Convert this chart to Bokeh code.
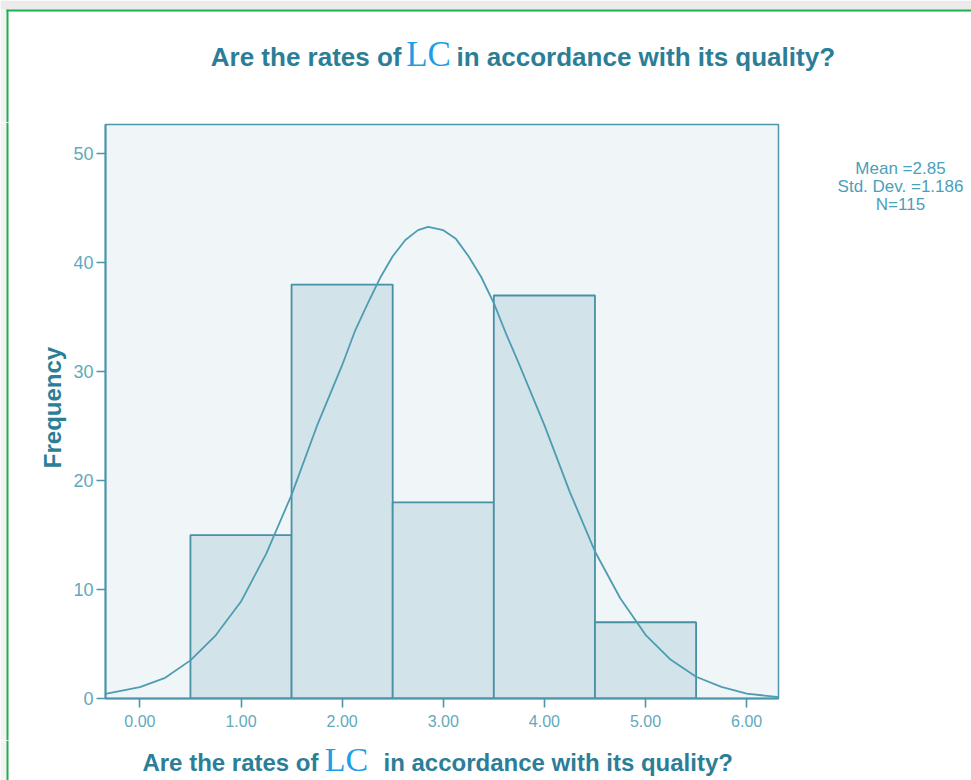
from bokeh.plotting import figure
from bokeh.layouts import column, row
from bokeh.models import Range1d, FixedTicker, PrintfTickFormatter
from bokeh.core.properties import value
from bokeh.embed import file_html
from bokeh.resources import INLINE
import math

# Histogram of responses (bin edges and counts)
bin_left = [0.5, 1.5, 2.5, 3.5, 4.5]
bin_right = [1.5, 2.5, 3.5, 4.5, 5.5]
counts = [15, 38, 18, 37, 7]

# Fitted normal curve, sampled along the x axis
curve_x = [-0.34, 0.0, 0.25, 0.5, 0.75, 1.0, 1.25, 1.5, 1.75, 2.0, 2.125, 2.25, 2.375, 2.5,
           2.625, 2.75, 2.85, 3.0, 3.125, 3.25, 3.375, 3.5, 3.625, 3.75, 4.0, 4.25, 4.5,
           4.75, 5.0, 5.25, 5.5, 5.75, 6.0, 6.32]
curve_y = [0.43, 1.04, 1.9, 3.5, 5.8, 8.9, 13.3, 18.7, 25.0, 30.6, 33.7, 36.2, 38.6, 40.6,
           42.1, 43.0, 43.3, 43.0, 42.2, 40.6, 38.7, 36.3, 33.4, 30.7, 25.1, 19.0, 13.5,
           9.2, 5.85, 3.55, 2.0, 1.07, 0.45, 0.12]

x_ticks = [0, 1, 2, 3, 4, 5, 6]
y_ticks = [0, 10, 20, 30, 40, 50]

stats_lines = ["Mean =2.85", "Std. Dev. =1.186", "N=115"]
title_parts = ["Are the rates of", "LC", "in accordance with its quality?"]
y_title = "Frequency"

W, H = 971, 780
TOP_H, MID_H, BOT_H = 122, 618, 40
LEFT_W, MAIN_W = 70, 710
RIGHT_W = W - LEFT_W - MAIN_W

TEAL = "#4b96ab"
TEXT_DARK = "#2c7e97"
TEXT_LIGHT = "#62a9bc"
LC_BLUE = "#1d9fe3"
GREEN = "#1eae4c"
SANS = value("Liberation Sans")
SERIF = value("Liberation Serif")


def blank_fig(w, h):
    # panel whose data coordinates are its own pixels, origin at the top-left
    f = figure(frame_width=w, frame_height=h, output_backend="svg", toolbar_location=None,
               x_range=Range1d(0, w), y_range=Range1d(h, 0),
               x_axis_type=None, y_axis_type=None, min_border=0, frame_align=False)
    f.grid.visible = False
    f.outline_line_color = None
    f.background_fill_color = "white"
    f.border_fill_color = "white"
    return f


def page_edge(f, w, h, top_edge=False):
    # grey page margin and green frame line along the left (and top) edge
    f.quad(left=0, right=6, top=0, bottom=h, fill_color="#f3f3f3", line_color=None)
    f.quad(left=6, right=8, top=9 if top_edge else 0, bottom=h, fill_color=GREEN, line_color=None)
    if top_edge:
        f.quad(left=0, right=w, top=0, bottom=9, fill_color="#ebebeb", line_color=None)
        f.quad(left=6, right=w, top=9, bottom=11, fill_color=GREEN, line_color=None)


def split_title(f, base, left_end, lc_center, right_start, size, lc_size):
    # pieces share one baseline; each is anchored at the middle of its own em box
    sans_mid = base - 0.347 * size
    serif_mid = base - 0.338 * lc_size
    f.text(x=[left_end], y=[sans_mid], text=[title_parts[0]], text_align="right",
           text_baseline="middle", text_font=SANS, text_font_style="bold",
           text_font_size=f"{size}px", text_color=TEXT_DARK)
    f.text(x=[lc_center], y=[serif_mid], text=[title_parts[1]], text_align="center",
           text_baseline="middle", text_font=SERIF, text_font_size=f"{lc_size}px",
           text_color=LC_BLUE)
    f.text(x=[right_start], y=[sans_mid], text=[title_parts[2]], text_align="left",
           text_baseline="middle", text_font=SANS, text_font_style="bold",
           text_font_size=f"{size}px", text_color=TEXT_DARK)


# --- top strip: chart title ---
top = blank_fig(W, TOP_H)
page_edge(top, W, TOP_H, top_edge=True)
split_title(top, 66, 401, 428, 456, 26, 35)

# --- left strip: y axis title ---
left = blank_fig(LEFT_W, MID_H)
page_edge(left, LEFT_W, MID_H)
left.text(x=[52], y=[285], text=[y_title], angle=math.pi / 2, text_align="center",
          text_baseline="middle", text_font=SANS, text_font_style="bold",
          text_font_size="24px", text_color=TEXT_DARK)

# --- main histogram ---
p = figure(width=MAIN_W, height=MID_H, output_backend="svg", toolbar_location=None,
           x_range=Range1d(-0.34, 6.315), y_range=Range1d(0, 52.7), frame_align=False,
           min_border_left=35, min_border_right=2, min_border_top=2, min_border_bottom=42)
p.background_fill_color = "#f0f5f8"
p.border_fill_color = "white"
p.outline_line_color = TEAL
p.outline_line_width = 1.5
p.xgrid.visible = False
p.ygrid.visible = False

p.quad(left=bin_left, right=bin_right, bottom=0, top=counts,
       fill_color="#d2e4ea", line_color="#4890a5", line_width=1.8)
p.line(curve_x, curve_y, line_color="#4e9cb1", line_width=1.8, line_join="round")

for ax in (p.xaxis[0], p.yaxis[0]):
    ax.axis_line_color = TEAL
    ax.axis_line_width = 2
    ax.major_tick_line_color = TEAL
    ax.major_tick_line_width = 1.6
    ax.major_tick_in = 0
    ax.major_tick_out = 9
    ax.minor_tick_line_color = None
    ax.major_label_text_color = TEXT_LIGHT
    ax.major_label_text_font = "Liberation Sans"

p.xaxis.ticker = FixedTicker(ticks=x_ticks)
p.xaxis.formatter = PrintfTickFormatter(format="%.2f")
p.xaxis.major_label_text_font_size = "16px"
p.xaxis.major_label_standoff = 7

p.yaxis.ticker = FixedTicker(ticks=y_ticks)
p.yaxis.major_label_text_font_size = "18px"
p.yaxis.major_label_standoff = 3

# --- right strip: summary statistics ---
right = blank_fig(RIGHT_W, MID_H)
right.text(x=[120, 120, 120], y=[46, 64, 82], text=stats_lines, text_align="center",
           text_baseline="middle", text_font=SANS, text_font_size="17px",
           text_color="#4aa0b8")

# --- bottom strip: x axis title ---
bottom = blank_fig(W, BOT_H)
page_edge(bottom, W, BOT_H)
split_title(bottom, 30, 318, 346, 383, 24, 34)

layout = column(top, row(left, p, right, spacing=0), bottom, spacing=0)

open("out.html", "w").write(file_html(layout, INLINE))
